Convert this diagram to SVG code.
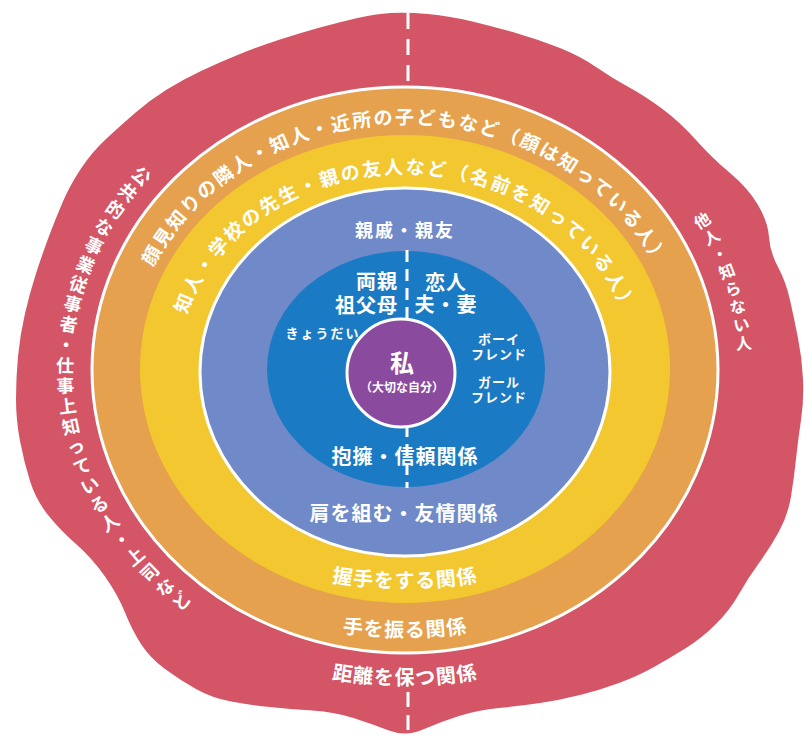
<svg xmlns="http://www.w3.org/2000/svg" width="804" height="737" viewBox="0 0 804 737">
<style>
.lbl{font-family:"Noto Sans CJK JP","Noto Sans",sans-serif;font-weight:700;fill:#ffffff;}
.dash{stroke:#ffffff;stroke-width:3;fill:none;}
</style>
<defs>
<path id="arcOrange" d="M 128 370 A 277 246 0 0 1 682 370"/>
<path id="arcYellow" d="M 177 372 A 228 198 0 0 1 633 372"/>
<path id="arcB1" d="M 185 530.6 A 450 450 0 0 0 625 530.6"/>
<path id="arcB2" d="M 185 579.6 A 450 450 0 0 0 625 579.6"/>
<path id="arcB3" d="M 185 627.6 A 450 450 0 0 0 625 627.6"/>
</defs>
<rect width="804" height="737" fill="#ffffff"/>

<g id="ring-red">
<path fill="#d45566" d="M 390.5 13 Q 406 12 428 14 Q 450 16 472.5 21.5 Q 495 27 517.5 33.5 Q 540 40 560 48 Q 580 56 596 67 Q 612 78 628.5 87 Q 645 96 662.5 109 Q 680 122 696 140 Q 712 158 730 173 Q 748 188 758 205 Q 768 222 769 237 Q 770 252 778 267 Q 786 282 790 300 Q 794 318 798 338 Q 802 358 803 379 Q 804 400 801 420 Q 798 440 796 459 Q 794 478 791 496.5 Q 788 515 779 531.5 Q 770 548 759 563 Q 748 578 739 594 Q 730 610 716 624 Q 702 638 686 648 Q 670 658 654 667 Q 638 676 619 683 Q 600 690 580 695 Q 560 700 540 703 Q 520 706 499 708 Q 478 710 459 716 Q 440 722 423 729.5 Q 406 737 389 730.5 Q 372 724 353.5 718 Q 335 712 312.5 710.5 Q 290 709 270 707 Q 250 705 231 701.5 Q 212 698 196 689 Q 180 680 165 669 Q 150 658 141 644 Q 132 630 125 612.5 Q 118 595 105 576.5 Q 92 558 76 544 Q 60 530 48 515 Q 36 500 30 481 Q 24 462 20 441 Q 16 420 16 399 Q 16 378 18 356.5 Q 20 335 25 313.5 Q 30 292 36 273.5 Q 42 255 48.5 237.5 Q 55 220 62.5 202.5 Q 70 185 81 168.5 Q 92 152 106 139 Q 120 126 135 113 Q 150 100 166 90 Q 182 80 201 71 Q 220 62 240 54 Q 260 46 280 39.5 Q 300 33 320 27.5 Q 340 22 357.5 18 Q 375 14 390.5 13 Z"/>
<text class="lbl" font-size="18" x="130.2 116.5 103.9 92.8 83.0 74.7 67.8 62.5 58.8 56.6 55.9 56.8 59.4 63.4 68.9 76.0 84.5 94.5 105.8 118.5 132.5 147.7 163.9 181.1" y="175.1 192.1 210.0 228.6 247.9 267.8 288.1 308.6 329.6 350.7 371.9 393.0 414.1 434.9 455.5 475.6 495.3 514.4 532.9 550.6 567.5 583.6 598.6 612.5" rotate="42.1 38.2 34.2 30.2 26.1 22.0 17.9 13.7 9.5 5.2 1.0 -3.2 -7.5 -11.7 -15.9 -20.1 -24.2 -28.3 -32.3 -36.3 -40.3 -44.2 -48.0 -51.7">公共的な事業従事者・仕事上知っている人・上司など</text>
<text class="lbl" font-size="16" x="698.5 707.3 715.0 721.6 727.0 731.3 734.4 736.3" y="230.1 246.2 262.7 279.7 297.0 314.4 332.1 349.9" rotate="-31.6 -28.0 -24.3 -20.6 -16.9 -13.1 -9.3 -5.6">他人・知らない人</text>
<text class="lbl" font-size="20" letter-spacing="1" text-anchor="middle"><textPath href="#arcB3" startOffset="50%">距離を保つ関係</textPath></text>
</g>

<g id="ring-orange">
<ellipse cx="405" cy="370" rx="313" ry="283" fill="#e5a14d" stroke="#ffffff" stroke-width="3"/>
<text class="lbl" font-size="19" letter-spacing="2" text-anchor="middle"><textPath href="#arcOrange" startOffset="50%">顔見知りの隣人・知人・近所の子どもなど（顔は知っている人）</textPath></text>
<text class="lbl" font-size="20" letter-spacing="1" text-anchor="middle"><textPath href="#arcB2" startOffset="50%">手を振る関係</textPath></text>
</g>

<g id="ring-yellow">
<ellipse cx="405" cy="369" rx="265" ry="234" fill="#f2c72f"/>
<text class="lbl" font-size="19" letter-spacing="2.3" text-anchor="middle"><textPath href="#arcYellow" startOffset="50%">知人・学校の先生・親の友人など（名前を知っている人）</textPath></text>
<text class="lbl" font-size="20" letter-spacing="1" text-anchor="middle"><textPath href="#arcB1" startOffset="50%">握手をする関係</textPath></text>
</g>

<g id="ring-friends">
<ellipse cx="405" cy="372" rx="205" ry="184" fill="#7089c8" stroke="#ffffff" stroke-width="3"/>
<text class="lbl" font-size="18" letter-spacing="2" text-anchor="middle" x="405" y="237">親戚・親友</text>
<text class="lbl" font-size="20" letter-spacing="1" text-anchor="middle" x="404" y="521">肩を組む・友情関係</text>
</g>

<g id="ring-family">
<ellipse cx="406" cy="369" rx="139" ry="118" fill="#1a7bc4"/>
<text class="lbl" font-size="20" letter-spacing="1" text-anchor="end" x="398" y="289">両親</text>
<text class="lbl" font-size="20" letter-spacing="1" text-anchor="end" x="398" y="313">祖父母</text>
<text class="lbl" font-size="20" letter-spacing="1" text-anchor="middle" x="446" y="290">恋人</text>
<text class="lbl" font-size="20" letter-spacing="1" text-anchor="middle" x="446" y="312">夫・妻</text>
<text class="lbl" font-size="13" letter-spacing="2" text-anchor="middle" x="323" y="338">きょうだい</text>
<text class="lbl" font-size="13" letter-spacing="1" text-anchor="middle" x="499" y="344">ボーイ</text>
<text class="lbl" font-size="13" letter-spacing="1" text-anchor="middle" x="499" y="359">フレンド</text>
<text class="lbl" font-size="13" letter-spacing="1" text-anchor="middle" x="499" y="387">ガール</text>
<text class="lbl" font-size="13" letter-spacing="1" text-anchor="middle" x="499" y="402">フレンド</text>
</g>

<g id="connectors">
<line class="dash" x1="408" y1="13" x2="408" y2="86" stroke-dasharray="16 10"/>
<line class="dash" x1="408" y1="692" x2="408" y2="737" stroke-dasharray="15 8"/>
<line class="dash" x1="407" y1="250" x2="407" y2="322" stroke-dasharray="12 7"/>
<line class="dash" x1="407" y1="425" x2="407" y2="488" stroke-dasharray="12 7"/>
</g>

<g id="ring-center">
<text class="lbl" font-size="20" letter-spacing="1" text-anchor="middle" x="405" y="464">抱擁・信頼関係</text>
<circle cx="401" cy="373" r="54" fill="#8a4a9e" stroke="#ffffff" stroke-width="3"/>
<text class="lbl" font-size="24" text-anchor="middle" x="402" y="372">私</text>
<text class="lbl" font-size="12" text-anchor="middle" x="402" y="392" fill="#f0e6f5">（大切な自分）</text>
</g>
</svg>
